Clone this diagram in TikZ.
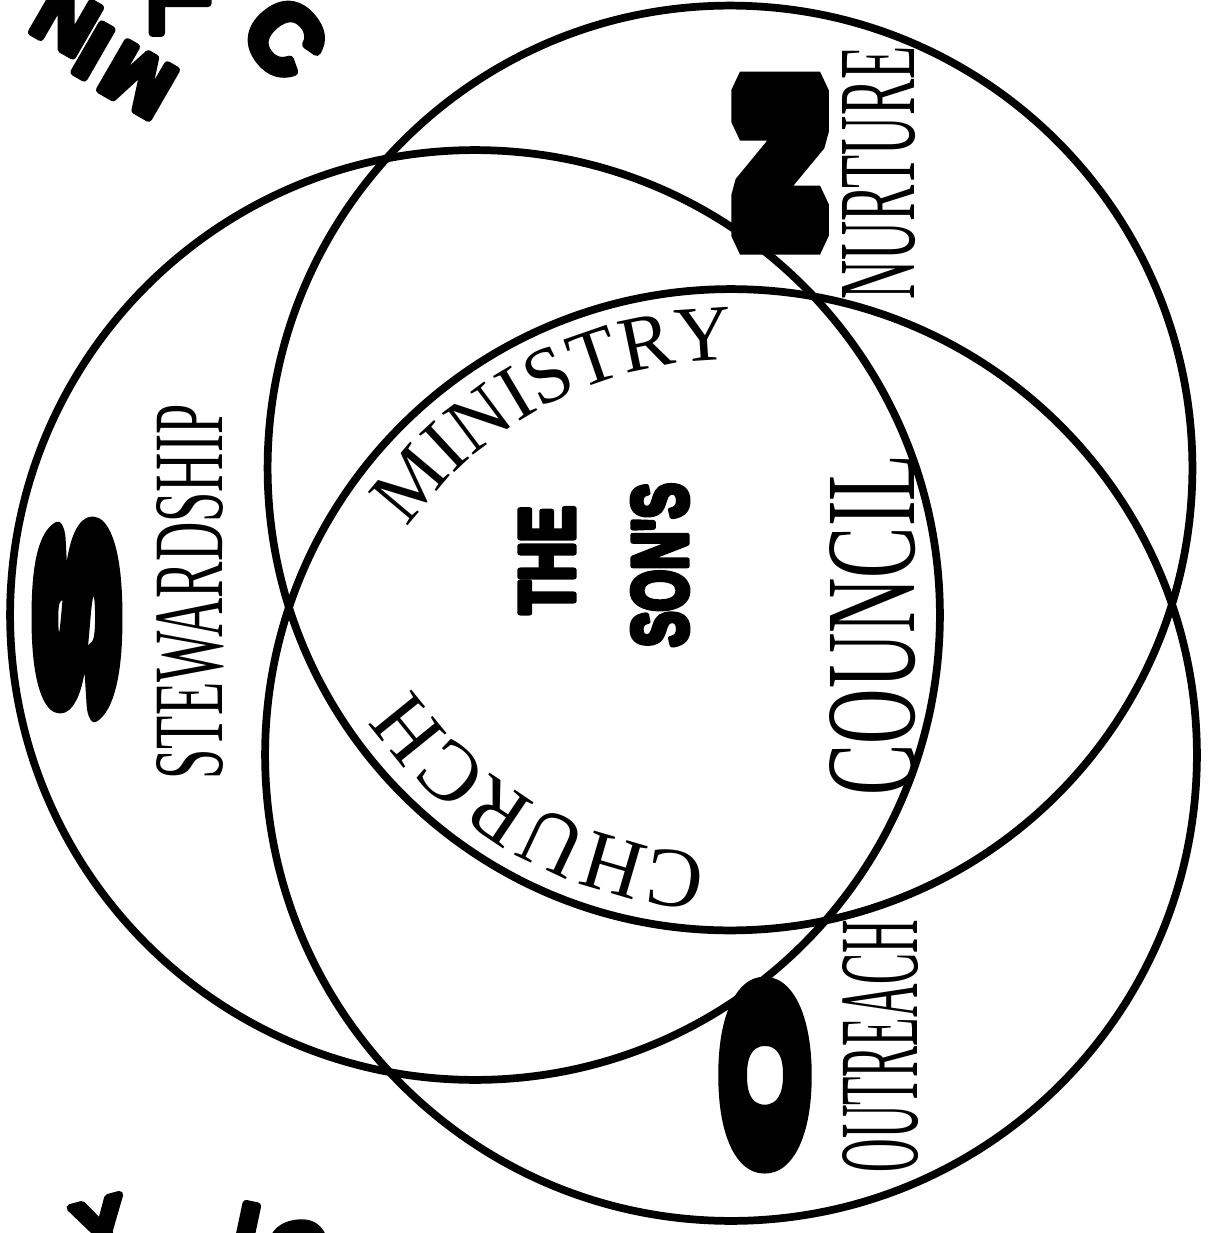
\documentclass[tikz,border=0pt]{standalone}
\usepackage{fontspec}
\usepackage{graphicx}
\setmainfont{Liberation Serif}
\newfontfamily\heavyfont{Liberation Sans Bold}[FakeBold=15]
\newfontfamily\blackfont{Liberation Sans Bold}[FakeBold=8]
\newfontfamily\fragfont{Liberation Sans Bold}[FakeBold=9]
\newcommand\roundjoin{\special{pdf:literal direct 1 j 1 J}}
\newcommand\beveljoin{\special{pdf:literal direct 2 j 0 J}}
\usetikzlibrary{decorations.text}
\begin{document}
\begin{tikzpicture}[x=0.02cm,y=-0.02cm]
\tikzstyle{ring}=[draw,circle,line width=4.4pt,inner sep=0pt]
\tikzstyle{side}=[inner sep=0pt,rotate=90,line join=round]
\tikzstyle{frag}=[inner sep=0pt,line join=round,font=\fragfont\fontsize{46}{46}\selectfont\roundjoin]

\useasboundingbox (0,0) rectangle (1213,1233);
\clip (0,0) rectangle (1213,1233);

% the three circles
\node[ring,minimum size=18.6cm] (stew) at (475,615) {};
\node[ring,minimum size=18.5cm] (nurt) at (730,468) {};
\node[ring,minimum size=18.64cm] (outr) at (731,755) {};

% initials
\node[side] (bigS) at (77,618) {\roundjoin\resizebox{3.66cm}{1.48cm}{\heavyfont S}};
\node[side,line join=bevel] (bigN) at (780,163) {\beveljoin\resizebox{3.58cm}{1.6cm}{\heavyfont N}};
\node[side] (bigO) at (765,1075) {\roundjoin\resizebox{3.62cm}{1.52cm}{\heavyfont O}};

% circle names
\node[side] (stewtxt) at (190,592) {\resizebox{7.5cm}{1.32cm}{STEWARDSHIP}};
\node[side] (nurttxt) at (879,173) {\resizebox{5.06cm}{1.44cm}{NURTURE}};
\node[side] (outrtxt) at (881,1046) {\resizebox{5.06cm}{1.5cm}{OUTREACH}};

% middle
\node[side] (the) at (547,560) {\roundjoin\resizebox{2.16cm}{1.06cm}{\blackfont THE}};
\node[side] (sons) at (660,565) {\roundjoin\resizebox{3.28cm}{1.08cm}{\blackfont SON'S}};
\node[side] (council) at (873,625) {\resizebox{6.82cm}{1.7cm}{COUNCIL}};

% words on the arcs
\path[decorate,decoration={text along path,text align=center,
  text={|\fontsize{45}{45}\selectfont|MINISTRY}}]
  (outr.center) ++(202.7:395) arc[start angle=202.7,end angle=282.7,radius=395];
\path[decorate,decoration={text along path,text align=center,
  text={|\fontsize{48}{48}\selectfont|CHURCH}}]
  (nurt.center) ++(79.5:387) arc[start angle=79.5,end angle=159.5,radius=387];

% cut off letters at the edge
\node[frag,rotate=150] (fN) at (66,20) {N};
\node[frag,rotate=150] (fI) at (93,51) {I};
\node[frag,rotate=150] (fM) at (138,80) {M};
\node[frag,rotate=-90,anchor=south west] (fL) at (152,-14) {L};
\node[frag,rotate=-50,font=\fragfont\fontsize{54}{54}\selectfont\roundjoin] (fC) at (285,38) {C};
\node[frag,rotate=15] (fY) at (102,1228) {Y};
\node[frag,rotate=-12] (fI2) at (246,1232) {I};
\node[frag,rotate=10] (fC2) at (298,1252) {C};
\end{tikzpicture}
\end{document}
